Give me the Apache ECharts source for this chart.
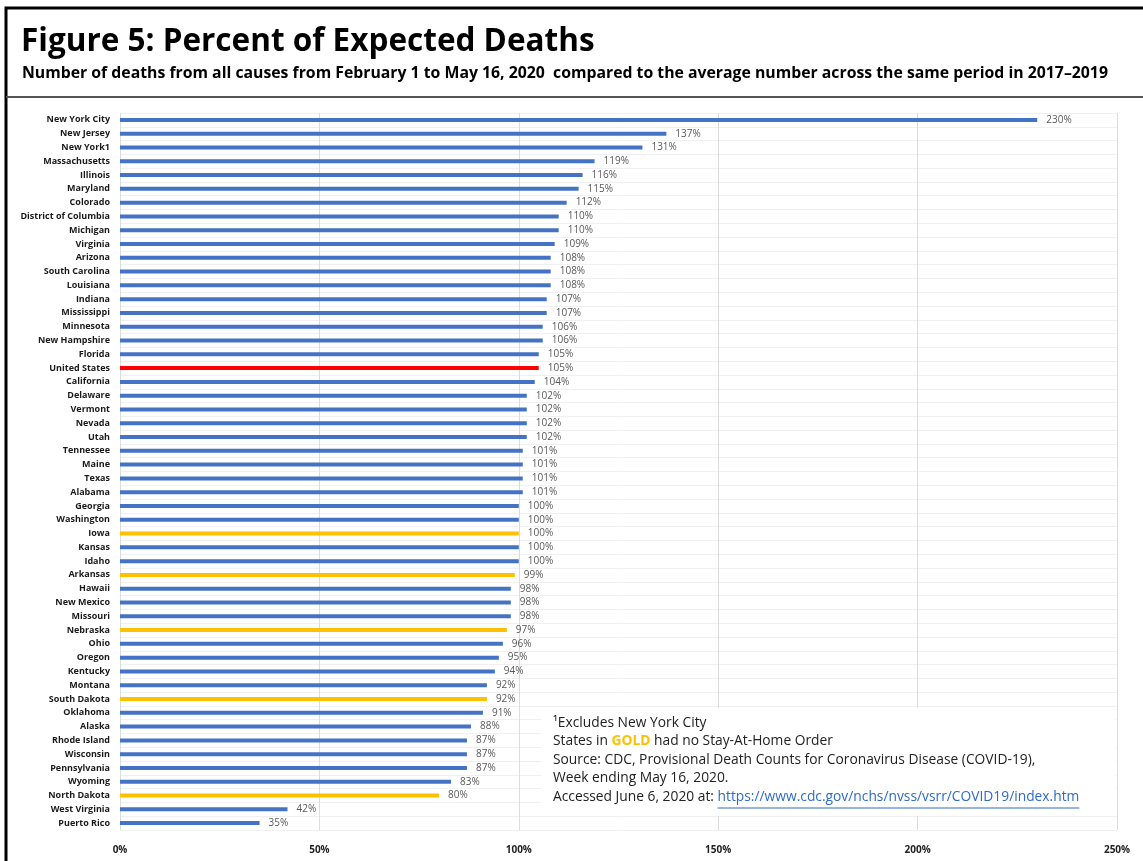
<!DOCTYPE html>
<html>
<head>
<meta charset="utf-8">
<script src="https://cdn.jsdelivr.net/npm/echarts@6/dist/echarts.min.js"></script>
<style>
  html, body { margin: 0; padding: 0; background: #fff; }
  #chart { width: 1143px; height: 861px; }
</style>
</head>
<body>
<div id="chart"></div>
<script>
var states = ["New York City", "New Jersey", "New York1", "Massachusetts", "Illinois", "Maryland",
    "Colorado", "District of Columbia", "Michigan", "Virginia", "Arizona", "South Carolina",
    "Louisiana", "Indiana", "Mississippi", "Minnesota", "New Hampshire", "Florida",
    "United States", "California", "Delaware", "Vermont", "Nevada", "Utah", "Tennessee",
    "Maine", "Texas", "Alabama", "Georgia", "Washington", "Iowa", "Kansas", "Idaho",
    "Arkansas", "Hawaii", "New Mexico", "Missouri", "Nebraska", "Ohio", "Oregon",
    "Kentucky", "Montana", "South Dakota", "Oklahoma", "Alaska", "Rhode Island",
    "Wisconsin", "Pennsylvania", "Wyoming", "North Dakota", "West Virginia", "Puerto Rico"];
var percents = [230, 137, 131, 119, 116, 115, 112, 110, 110, 109, 108, 108, 108, 107, 107,
    106, 106, 105, 105, 104, 102, 102, 102, 102, 101, 101, 101, 101, 100, 100, 100, 100,
    100, 99, 98, 98, 98, 97, 96, 95, 94, 92, 92, 91, 88, 87, 87, 87, 83, 80, 42, 35];
// states without a stay-at-home order
var goldStates = ["Iowa", "Arkansas", "Nebraska", "South Dakota", "North Dakota"];
var xTicks = [0, 50, 100, 150, 200, 250];

var chart = echarts.init(document.getElementById('chart'));

var barData = [];
for (var i = 0; i < states.length; i++) {
    var c = '#4472C4';
    if (states[i] == 'United States') c = '#FF0000';
    else if (goldStates.indexOf(states[i]) >= 0) c = '#FFC000';
    barData.push({ value: percents[i], itemStyle: { color: c } });
}

var font = 'Open Sans, Liberation Sans, sans-serif';
var noteFont = '13.8px ' + font;
var linkPre = 'Accessed June 6, 2020 at: ';
var linkUrl = 'https://www.cdc.gov/nchs/nvss/vsrr/COVID19/index.htm';

// measure the link so the underline fits it
var ctx = document.createElement('canvas').getContext('2d');
ctx.font = noteFont;
var preW = ctx.measureText(linkPre).width;
var urlW = ctx.measureText(linkUrl).width;

var option = {
    animation: false,
    backgroundColor: '#fff',
    grid: { left: 120, right: 26, top: 113, bottom: 31 },
    xAxis: {
        type: 'value',
        min: xTicks[0],
        max: xTicks[xTicks.length - 1],
        interval: 50,
        axisLine: { show: false },
        axisTick: { show: false },
        axisLabel: {
            formatter: '{value}%',
            color: '#222',
            fontWeight: 'bold',
            fontSize: 10,
            fontFamily: font,
            margin: 15
        },
        splitLine: { lineStyle: { color: '#dcdcdc', width: 1 } }
    },
    yAxis: {
        type: 'category',
        data: states,
        inverse: true,
        axisLine: { show: false },
        axisTick: { show: false },
        axisLabel: {
            color: '#1a1a1a',
            fontSize: 9,
            fontWeight: 'bold',
            fontFamily: font,
            margin: 10
        },
        splitLine: { show: true, lineStyle: { color: '#f0f0f0', width: 1 } }
    },
    series: [{
        type: 'bar',
        data: barData,
        barWidth: 4,
        label: {
            show: true,
            position: 'right',
            distance: 9,
            formatter: '{c}%',
            color: '#595959',
            fontSize: 10,
            fontFamily: font
        }
    }],
    graphic: [
        { type: 'rect', z: 100, shape: { x: 6, y: 8, width: 1160, height: 870 }, style: { fill: 'none', stroke: '#000', lineWidth: 3 }, silent: true },
        { type: 'line', z: 100, shape: { x1: 6, y1: 97, x2: 1143, y2: 97 }, style: { stroke: '#555', lineWidth: 2 } },
        { type: 'text', z: 100, left: 21, top: 26, style: { text: 'Figure 5: Percent of Expected Deaths', font: 'bold 31.5px ' + font, fill: '#000' } },
        { type: 'text', z: 100, left: 22, top: 65, style: { text: 'Number of deaths from all causes from February 1 to May 16, 2020  compared to the average number across the same period in 2017\u20132019', font: 'bold 15.8px ' + font, fill: '#000' } },
        { type: 'rect', z: 100, shape: { x: 541, y: 708, width: 575, height: 108 }, style: { fill: '#fff' } },
        { type: 'text', z: 101, left: 553, top: 716, style: { text: '\u00b9Excludes New York City', font: noteFont, fill: '#222' } },
        { type: 'text', z: 101, left: 553, top: 734, style: {
            text: '{a|States in }{g|GOLD}{a| had no Stay-At-Home Order}',
            rich: {
                a: { font: noteFont, fill: '#222' },
                g: { font: 'bold ' + noteFont, fill: '#FFC000' }
            }
        } },
        { type: 'text', z: 101, left: 553, top: 753, style: { text: 'Source: CDC, Provisional Death Counts for Coronavirus Disease (COVID-19),', font: noteFont, fill: '#222' } },
        { type: 'text', z: 101, left: 553, top: 771, style: { text: 'Week ending May 16, 2020.', font: noteFont, fill: '#222' } },
        { type: 'text', z: 101, left: 553, top: 790, style: {
            text: '{a|' + linkPre + '}{u|' + linkUrl + '}',
            rich: {
                a: { font: noteFont, fill: '#222' },
                u: { font: noteFont, fill: '#2E6BC6' }
            }
        } },
        { type: 'line', z: 101, shape: { x1: 553 + preW, y1: 808, x2: 553 + preW + urlW, y2: 808 }, style: { stroke: '#2E6BC6', lineWidth: 1 } }
    ]
};
chart.setOption(option);
</script>
</body>
</html>
